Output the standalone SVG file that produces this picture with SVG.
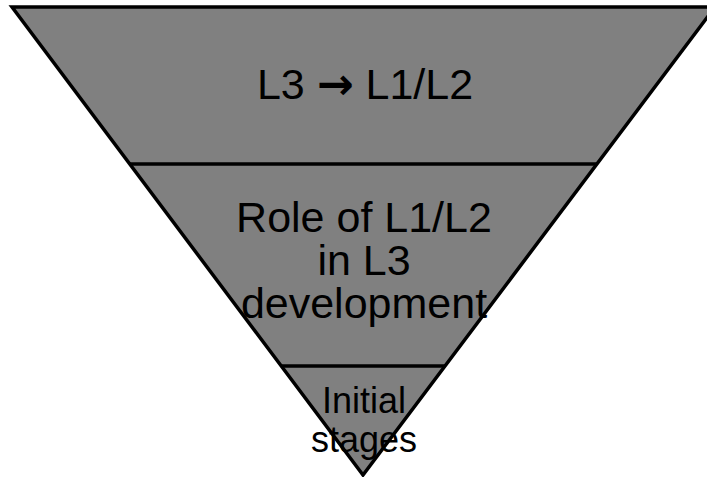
<svg xmlns="http://www.w3.org/2000/svg" width="707" height="477" viewBox="0 0 707 477">
<style>
.t{font-family:"Liberation Sans",Arial,sans-serif;fill:#000;text-anchor:middle}
.ln{stroke:#000;stroke-width:3.5;fill:none}
</style>
<rect width="707" height="477" fill="#fff"/>
<g id="pyramid">
<polygon points="12,7 715,7 363,475" fill="#808080" stroke="#000" stroke-width="3.5" stroke-linejoin="miter"/>
</g>
<g id="dividers">
<line class="ln" x1="130" y1="164" x2="597" y2="164"/>
<line class="ln" x1="281" y1="366" x2="445" y2="366"/>
</g>
<g id="level-top">
<text class="t" x="365" y="99" font-size="43">L3 <tspan font-family="DejaVu Sans" font-weight="bold" font-size="44">→</tspan> L1/L2</text>
</g>
<g id="level-middle">
<text class="t" x="364" y="232" font-size="43">Role of L1/L2</text>
<text class="t" x="364" y="275" font-size="43">in L3</text>
<text class="t" x="364" y="318" font-size="43">development</text>
</g>
<g id="level-bottom">
<text class="t" x="364" y="413" font-size="36">Initial</text>
<text class="t" x="364" y="452" font-size="36">stages</text>
</g>
</svg>
